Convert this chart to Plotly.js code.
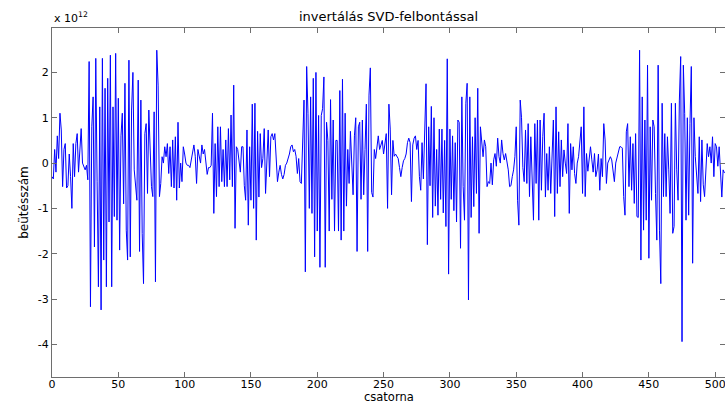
<!DOCTYPE html>
<html>
<head>
<meta charset="utf-8">
<script src="https://cdn.plot.ly/plotly-3.0.1.min.js"></script>
<style>html,body{margin:0;padding:0;background:#fff;overflow:hidden}#chart{width:725px;height:403px}</style>
</head>
<body>
<div id="chart"></div>
<script>
// channel counts (x 10^12), 50 channels per array
const y000 = [-0.3,-0.35,0.3,-0.2,0.6,0.1,1.1,0.73,-0.52,0.3,
  0.43,-0.55,-0.5,0.2,-0.3,-1.0,0.43,-0.3,0.43,0.65,
  -0.2,0.3,0.76,0.0,-0.1,-0.15,-0.05,-0.37,2.24,-3.17,
  0.8,1.46,-1.85,2.31,-0.4,-2.73,1.24,-3.24,2.31,-2.14,
  1.65,-2.73,1.87,-1.3,2.38,-2.73,1.24,-1.18,2.42,-1.26];
const y050 = [1.43,-1.92,0.6,1.1,-0.9,1.76,-1.48,-2.14,2.27,-2.07,
  1.17,2.0,-0.15,-0.5,-0.82,1.83,-1.95,1.39,-1.55,-2.66,
  0.65,0.87,-0.67,1.17,0.25,-0.52,-0.74,1.13,-2.62,2.49,
  1.72,-0.74,-0.45,0.14,0.0,0.36,0.14,0.43,-0.23,0.36,
  -0.52,0.51,-0.55,0.58,-0.82,0.9,-0.55,0.0,-0.41,0.36];
const y100 = [0.2,0.0,-0.05,-0.05,-0.1,0.05,0.2,0.4,0.15,-0.45,
  0.3,0.1,0.0,0.4,0.2,0.3,0.05,-0.25,-0.1,-0.1,
  -0.05,1.1,-1.11,0.43,-0.74,0.8,-0.52,0.8,-0.41,0.3,
  -0.52,0.51,-0.52,0.76,-0.37,1.06,-0.52,1.72,-1.44,0.36,
  0.3,0.0,-0.2,0.36,0.36,-0.5,-0.82,0.73,-1.37,0.36];
const y150 = [-0.82,1.3,-1.0,1.32,-1.7,0.7,-0.75,0.65,-0.1,0.1,
  0.76,-0.67,0.1,0.73,-0.3,0.58,0.65,0.51,0.65,0.2,
  -0.41,-0.2,-0.05,-0.25,-0.35,-0.25,-0.05,0.0,0.1,0.2,
  0.36,0.4,0.25,0.3,0.15,-0.23,0.1,-0.41,-0.45,0.36,
  1.39,-2.4,2.13,1.1,-1.0,1.46,-1.11,1.87,-2.07,2.0];
const y200 = [-1.5,1.05,-2.3,1.05,1.2,1.9,-2.3,0.9,0.5,-1.5,
  1.4,-0.8,0.95,-1.5,0.5,0.5,-1.5,1.6,-1.7,1.85,
  -1.5,1.1,-0.95,0.3,-0.45,0.7,0.0,-0.7,0.6,1.0,
  -1.95,0.8,0.9,-0.8,0.95,-0.7,0.3,1.3,-1.95,1.5,
  2.1,-0.65,-0.75,0.3,0.1,0.3,0.6,0.3,0.4,0.5];
const y250 = [0.2,0.4,0.65,-1.0,1.3,0.75,-0.7,0.5,0.15,0.2,
  0.15,0.1,-0.1,-0.3,-0.1,0.05,0.1,0.2,0.45,0.55,
  0.45,-0.85,0.4,0.55,0.6,0.3,0.5,-0.3,-0.6,0.45,
  -0.35,0.55,1.75,-1.8,0.8,-0.5,1.25,-1.2,1.0,-0.95,
  0.3,-1.15,0.75,-0.8,0.75,-1.1,0.5,-1.4,2.3,-2.45];
const y300 = [0.75,-0.8,0.6,-1.05,0.45,-1.3,0.95,0.9,-1.88,1.46,
  -0.52,-1.26,1.32,1.76,-3.02,1.46,-1.2,0.58,-0.96,1.0,
  -0.67,1.65,-1.55,0.8,0.4,0.14,0.51,0.36,-0.52,-0.41,
  -0.45,0.0,-0.48,0.07,0.21,-0.07,0.55,0.14,0.0,0.51,
  0.21,0.07,0.21,0.0,-0.15,-0.52,-0.5,-0.3,-0.15,0.14];
const y350 = [0.8,-0.82,-1.37,1.39,1.0,-0.1,-0.41,0.73,-0.45,0.87,
  -0.74,0.58,-0.37,-1.26,0.87,-0.45,0.95,-1.26,0.95,-0.6,
  0.58,1.1,-0.75,0.21,-0.6,0.36,-0.67,0.33,0.95,-1.18,
  1.24,-0.67,0.69,-0.52,0.51,-0.3,0.29,0.0,-0.23,0.87,
  -1.11,0.43,-0.15,0.36,-0.23,-0.45,0.0,0.14,0.51,0.8];
const y400 = [-0.67,1.24,-0.74,0.21,-0.18,0.1,0.36,0.07,-0.2,0.21,
  -0.3,-0.15,0.2,-0.6,0.1,-0.3,0.87,0.51,-0.45,0.0,
  0.07,0.14,0.07,-0.2,-0.41,0.0,0.14,0.21,0.36,0.36,
  0.33,-0.74,-1.15,0.69,0.87,-0.52,0.58,-0.6,0.43,-0.89,
  0.65,-1.18,-1.2,2.49,-2.14,1.46,-1.48,0.95,-1.26,2.16];
const y450 = [-2.1,0.8,-0.82,0.95,0.8,-0.67,-1.7,2.16,-1.48,-2.66,
  1.32,-0.74,0.65,-0.74,0.58,-0.15,-1.11,1.32,-1.55,-1.4,
  1.32,-0.15,-0.82,1.39,2.35,-3.94,2.16,1.1,-1.26,1.0,
  -1.15,0.87,2.13,-2.21,1.0,0.14,-0.37,-0.67,0.58,-0.85,
  0.51,-0.48,-0.74,-0.23,0.43,0.14,0.36,0.0,0.58,-0.3,
  0.43,0.36,-0.07,0.36,-0.15,-0.75,-0.15,-0.22];

const counts = [].concat(y000,y050,y100,y150,y200,y250,y300,y350,y400,y450);
const channels = counts.map((_, i) => i);

const xTicks = [0,50,100,150,200,250,300,350,400,450,500];
const xTickText = ['0','50','100','150','200','250','300','350','400','450','500'];
const yTicks = [-4,-3,-2,-1,0,1,2];
const yTickText = ['-4','-3','-2','-1','0','1','2'];

const font = 'DejaVu Sans, Liberation Sans, Arial, sans-serif';
const axisCommon = {
  showgrid: false, zeroline: false, showline: true, linecolor: '#6e6e6e', linewidth: 1,
  mirror: 'ticks', ticks: 'inside', ticklen: 5, tickcolor: '#6e6e6e', tickwidth: 1,
  tickfont: {family: font, size: 11, color: '#000'}, tickmode: 'array',
  ticklabeloverflow: 'allow', automargin: false
};

// plot area spans y = 28 .. 377 px; x title centre sits near y = 396.5 px
const plotTop = 28, plotBottom = 377;

Plotly.newPlot('chart', [{
  x: channels, y: counts, type: 'scatter', mode: 'lines',
  line: {color: '#0000ff', width: 1}, hoverinfo: 'skip'
}], {
  width: 725, height: 403,
  margin: {l: 52, r: 0, t: plotTop, b: 403 - plotBottom, pad: 0},
  paper_bgcolor: '#fff', plot_bgcolor: '#fff',
  showlegend: false,
  title: {text: 'invertálás SVD-felbontással', font: {family: font, size: 13, color: '#000'},
          xref: 'paper', x: 0.5, xanchor: 'center', yref: 'container', y: 1 - 16/403, yanchor: 'middle'},
  xaxis: Object.assign({}, axisCommon, {range: [0, 507.4], tickvals: xTicks, ticktext: xTickText,
    ticklabelstandoff: -3}),
  yaxis: Object.assign({}, axisCommon, {range: [-4.72, 2.98], tickvals: yTicks, ticktext: yTickText,
    title: {text: 'beütésszám', font: {family: font, size: 12, color: '#000'}, standoff: 6}}),
  annotations: [{
    text: 'x 10<sup>12</sup>', xref: 'paper', yref: 'paper', x: 0, y: 1, xanchor: 'left', yanchor: 'bottom',
    showarrow: false, font: {family: font, size: 11, color: '#000'}, yshift: 1
  }, {
    text: 'csatorna', xref: 'paper', yref: 'paper', x: 0.5,
    y: (plotBottom - 396.5) / (plotBottom - plotTop), xanchor: 'center', yanchor: 'middle',
    showarrow: false, font: {family: font, size: 11.5, color: '#000'}
  }]
}, {staticPlot: true, displayModeBar: false});
</script>
</body>
</html>
